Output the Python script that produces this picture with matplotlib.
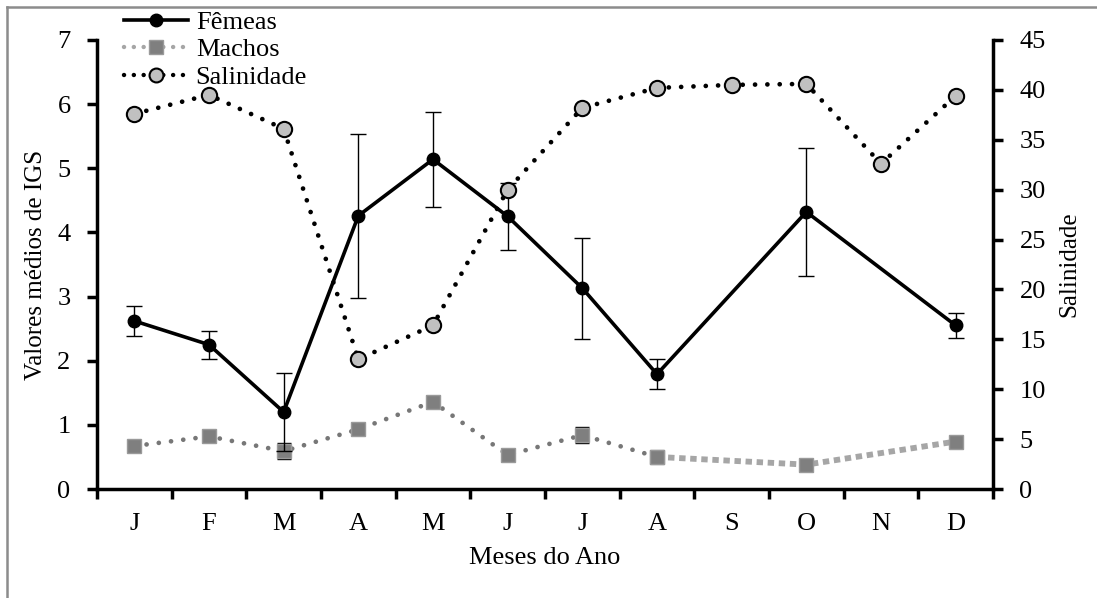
import matplotlib.pyplot as plt
import numpy as np
from matplotlib.lines import Line2D

plt.rcParams['font.family'] = ['Liberation Serif', 'DejaVu Serif']

meses = ["J", "F", "M", "A", "M", "J", "J", "A", "S", "O", "N", "D"]

# Fêmeas (sem dados em S e N)
femeas_idx = [0, 1, 2, 3, 4, 5, 6, 7, 9, 11]
femeas = [2.62, 2.25, 1.20, 4.26, 5.14, 4.25, 3.13, 1.79, 4.32, 2.55]
femeas_err = [0.24, 0.22, 0.61, 1.28, 0.74, 0.52, 0.79, 0.235, 1.00, 0.20]

# Machos
machos_idx = [0, 1, 2, 3, 4, 5, 6, 7, 9, 11]
machos = [0.67, 0.82, 0.59, 0.93, 1.36, 0.53, 0.84, 0.50, 0.38, 0.74]
machos_err = [0.03, 0.05, 0.13, 0.04, 0.06, 0.03, 0.12, 0.03, 0.03, 0.03]

# Salinidade
salinidade = [37.6, 39.5, 36.1, 13.0, 16.4, 30.0, 38.2, 40.2, 40.5, 40.6, 32.6, 39.4]

fs = 19
fig = plt.figure(figsize=(10.97, 5.98), dpi=100)
ax = fig.add_axes([97/1097, 1 - 489/598, (993-97)/1097, (489-40)/598])
ax2 = ax.twinx()

x_all = np.arange(len(meses))

# machos: pontos ligados (ate agosto) e trechos interpolados
ax.errorbar(machos_idx[:8], machos[:8], yerr=machos_err[:8], color="#777777",
            ecolor="black", elinewidth=1, capsize=5, capthick=1,
            linestyle=(0, (0.01, 2.6)), dash_capstyle="round", linewidth=3.4,
            marker="s", markersize=10, markerfacecolor="#7f7f7f",
            markeredgecolor="#9a9a9a", zorder=3)
ax.plot(machos_idx[7:], machos[7:], color="#a6a6a6", linestyle=(0, (1.1, 0.8)),
        linewidth=4.2, solid_capstyle="butt", dash_capstyle="butt", zorder=2)
ax.errorbar(machos_idx[7:], machos[7:], yerr=machos_err[7:], color="#7f7f7f",
            ecolor="black", elinewidth=1, capsize=5, capthick=1, linestyle="none",
            marker="s", markersize=10, markerfacecolor="#7f7f7f",
            markeredgecolor="#9a9a9a", zorder=3)

ax.errorbar(femeas_idx, femeas, yerr=femeas_err, color="black", ecolor="black",
            elinewidth=1, capsize=6, capthick=1, linewidth=2.6, marker="o",
            markersize=9, zorder=4)

ax2.plot(x_all, salinidade, color="black", linestyle=(0, (0.01, 2.6)),
         dash_capstyle="round", linewidth=3.4, marker="o", markersize=11,
         markerfacecolor="#c0c0c0", markeredgecolor="black", markeredgewidth=1.5)

ax.set_xlim(-0.5, 11.5)
ax.set_ylim(0, 7)
ax2.set_ylim(0, 45)
ax.set_yticks(np.arange(0, 8, 1))
ax2.set_yticks(np.arange(0, 50, 5))
ax.set_xticks(np.arange(-0.5, 12, 1))
ax.set_xticklabels([])
ax.set_xticks(x_all, minor=True)
ax.set_xticklabels(meses, minor=True)

for a in (ax, ax2):
    a.spines["top"].set_visible(False)
    for s in ("left", "right", "bottom"):
        a.spines[s].set_linewidth(2.5)
ax.spines["right"].set_visible(False)
ax2.spines["left"].set_visible(False)
ax2.spines["bottom"].set_visible(False)

ax.tick_params(axis="y", direction="out", length=7, width=2.5, pad=12, labelsize=fs)
ax.tick_params(axis="x", which="major", direction="out", length=7, width=2.5)
ax.tick_params(axis="x", which="minor", length=0, pad=17, labelsize=fs)
ax2.tick_params(axis="y", direction="out", length=7, width=2.5, pad=12, labelsize=fs)

ax.set_xlabel("Meses do Ano", fontsize=fs, labelpad=9)
ax.set_ylabel("Valores médios de IGS", fontsize=18)
ax.yaxis.set_label_coords(-0.0555, 0.5)
ax2.set_ylabel("Salinidade", fontsize=18)
ax2.yaxis.set_label_coords(1.073, 0.5)

handles = [
    Line2D([], [], color="black", linewidth=2.6, marker="o", markersize=9),
    Line2D([], [], color="#a6a6a6", linestyle=(0, (0.01, 2.2)), dash_capstyle="round",
           linewidth=3.2, marker="s", markersize=10, markerfacecolor="#7f7f7f",
           markeredgecolor="#9a9a9a"),
    Line2D([], [], color="black", linestyle=(0, (0.01, 2.2)), dash_capstyle="round",
           linewidth=3.2, marker="o", markersize=10, markerfacecolor="#c0c0c0",
           markeredgecolor="black", markeredgewidth=1.5),
]
fig.legend(handles, ["Fêmeas", "Machos", "Salinidade"], loc="upper left",
           bbox_to_anchor=(106/1097, 1 + 8/598), frameon=False, fontsize=fs,
           handlelength=2.4, handletextpad=0.3, labelspacing=0.15, borderpad=0.2)

# borda do grafico
fig.add_artist(Line2D([7/1097, 7/1097], [0, 1 - 7/598], color="#8c8c8c", linewidth=1.8))
fig.add_artist(Line2D([7/1097, 1], [1 - 7/598, 1 - 7/598], color="#8c8c8c", linewidth=1.8))

plt.savefig("out.png", dpi=100)
